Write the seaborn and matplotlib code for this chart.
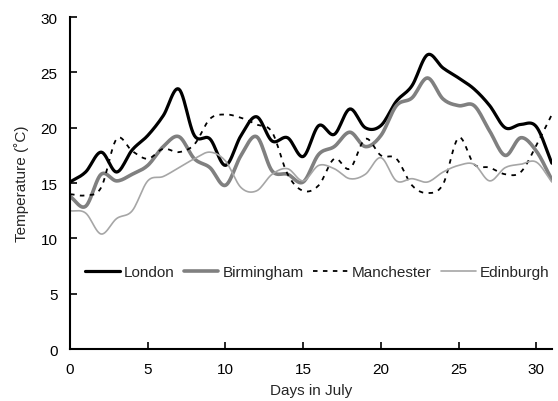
import numpy as np
import pandas as pd
import matplotlib
matplotlib.use("Agg")
import matplotlib.pyplot as plt
import seaborn as sns

days = list(range(32))
london = [15.1, 16.0, 17.8, 16.0, 18.0, 19.3, 21.1, 23.5, 19.3, 19.0, 16.6, 19.3, 21.0, 18.8, 19.1, 17.4,
          20.2, 19.4, 21.7, 20.0, 20.2, 22.4, 23.8, 26.6, 25.4, 24.5, 23.5, 22.0, 20.0, 20.3, 20.1, 16.8]
birmingham = [13.8, 12.9, 15.8, 15.2, 15.8, 16.6, 18.3, 19.2, 17.2, 16.4, 14.8, 17.5, 19.2, 16.1, 15.8, 15.1,
              17.6, 18.3, 19.6, 18.3, 19.3, 22.0, 22.7, 24.5, 22.6, 22.0, 22.0, 19.7, 17.5, 19.1, 17.9, 15.3]
manchester = [14.0, 13.9, 14.6, 19.0, 17.9, 17.2, 18.1, 17.8, 18.5, 20.8, 21.2, 20.9, 20.3, 19.6, 15.8, 14.3,
              14.8, 17.2, 16.3, 19.0, 17.5, 17.2, 14.8, 14.1, 14.9, 19.1, 16.7, 16.4, 15.8, 16.0, 18.4, 21.2]
edinburgh = [12.5, 12.3, 10.4, 11.8, 12.5, 15.2, 15.6, 16.4, 17.2, 17.8, 17.0, 14.6, 14.3, 15.8, 16.3, 15.2,
             16.6, 16.3, 15.4, 15.8, 17.3, 15.2, 15.4, 15.1, 16.0, 16.6, 16.7, 15.2, 16.4, 16.7, 16.9, 15.1]
series_names = ["London", "Birmingham", "Manchester", "Edinburgh"]


def smooth(x, y, n=12):
    # Catmull-Rom rendering of the line (like a spreadsheet "smoothed line")
    x = np.asarray(x, float)
    y = np.asarray(y, float)
    px = np.concatenate([[2 * x[0] - x[1]], x, [2 * x[-1] - x[-2]]])
    py = np.concatenate([[2 * y[0] - y[1]], y, [2 * y[-1] - y[-2]]])
    xs, ys = [], []
    t = np.linspace(0, 1, n, endpoint=False)
    for i in range(1, len(px) - 2):
        for arr, out in ((px, xs), (py, ys)):
            p0, p1, p2, p3 = arr[i - 1], arr[i], arr[i + 1], arr[i + 2]
            out.extend(0.5 * ((2 * p1) + (-p0 + p2) * t + (2 * p0 - 5 * p1 + 4 * p2 - p3) * t ** 2
                              + (-p0 + 3 * p1 - 3 * p2 + p3) * t ** 3))
    xs.append(x[-1])
    ys.append(y[-1])
    return np.array(xs), np.array(ys)


frames = []
for name, vals in zip(series_names, [london, birmingham, manchester, edinburgh]):
    sx, sy = smooth(days, vals)
    frames.append(pd.DataFrame({"day": sx, "temp": sy, "city": name}))
df = pd.concat(frames, ignore_index=True)

sns.set_theme(style="ticks")
plt.rcParams["font.family"] = ["Liberation Sans", "DejaVu Sans"]

fig = plt.figure(figsize=(5.58, 4.02), dpi=100)
ax = fig.add_axes([0.1255, 0.129, 0.8635, 0.826])

palette = {"London": "#000000", "Birmingham": "#808080", "Manchester": "#000000", "Edinburgh": "#a6a6a6"}
widths = {"London": 2.3, "Birmingham": 2.6, "Manchester": 1.3, "Edinburgh": 1.2}
dashes = {"London": "", "Birmingham": "", "Manchester": (2.5, 3), "Edinburgh": ""}

for name in series_names:
    sub = df[df["city"] == name]
    sns.lineplot(data=sub, x="day", y="temp", ax=ax, color=palette[name], linewidth=widths[name],
                 label=name, sort=False, estimator=None)
    if dashes[name]:
        ax.lines[-1].set_dashes(dashes[name])

ax.set_xlim(0, 31)
ax.set_ylim(0, 30)
ax.set_xticks(range(0, 31, 5))
ax.set_yticks(range(0, 31, 5))
ax.tick_params(direction="in", length=5, width=1.2, labelsize=11, colors="black", pad=9)
for s in ["top", "right"]:
    ax.spines[s].set_visible(False)
for s in ["left", "bottom"]:
    ax.spines[s].set_linewidth(1.5)
    ax.spines[s].set_color("black")
ax.set_xlabel("Days in July", fontsize=11, labelpad=5)
ax.set_ylabel("Temperature (\u02daC)", fontsize=11, labelpad=8)
ax.legend(loc="center", bbox_to_anchor=(0.513, 0.232), ncol=4, frameon=False, fontsize=11,
          handlelength=2.25, columnspacing=0.65, handletextpad=0.25)

fig.savefig("out.png", dpi=100)
